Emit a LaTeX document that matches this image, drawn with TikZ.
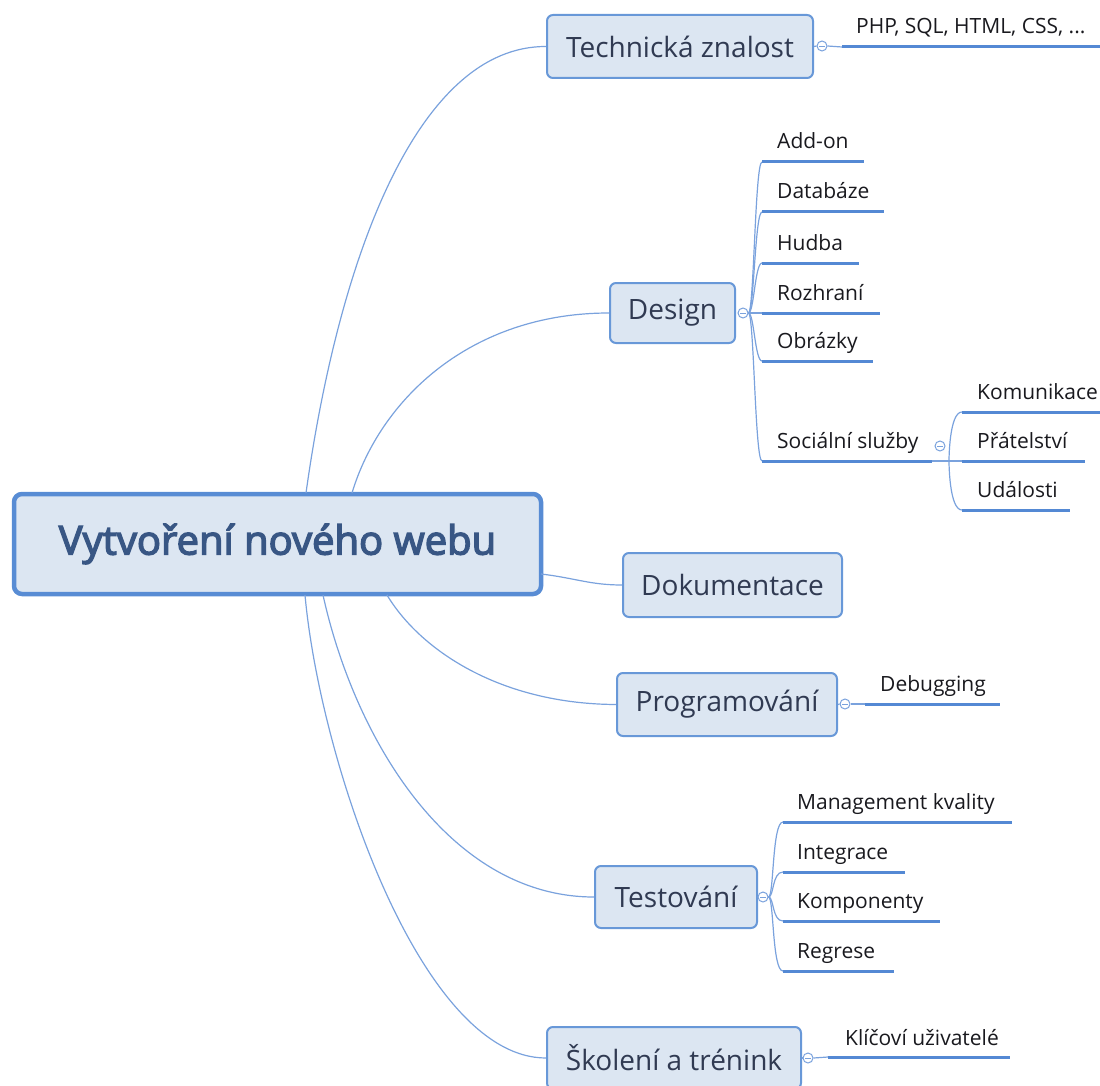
\documentclass[tikz,border=0pt]{standalone}
\usepackage{fontspec}
\setmainfont{Open Sans}
\newfontfamily\rootfont[FakeBold=3.5]{Open Sans}
\definecolor{boxfill}{RGB}{220,230,242}
\definecolor{boxline}{RGB}{104,152,216}
\definecolor{rootline}{RGB}{88,140,212}
\definecolor{connline}{RGB}{122,162,221}
\definecolor{uline}{RGB}{84,137,212}
\definecolor{maintext}{RGB}{48,58,82}
\definecolor{roottext}{RGB}{56,86,132}
\definecolor{leaftext}{RGB}{25,25,30}
\begin{document}
\begin{tikzpicture}[x=1pt,y=-1pt,
  rootbox/.style={draw=rootline,line width=4.5pt,fill=boxfill,rounded corners=8pt,
    minimum width=527,minimum height=100,inner sep=0pt,text=roottext,
    font=\rootfont\fontsize{40}{46}\selectfont},
  mainbox/.style={draw=boxline,line width=2pt,fill=boxfill,rounded corners=6pt,
    inner sep=0pt,text=maintext,font=\fontsize{28}{32}\selectfont},
  leaf/.style={inner sep=0pt,anchor=base west,text=leaftext,font=\fontsize{21}{25}\selectfont},
  conn/.style={draw=connline,line width=1.2pt},
  underline/.style={draw=uline,line width=3pt},
  collapse/.style={circle,draw=connline,line width=1pt,fill=white,minimum size=10pt,inner sep=0pt,
    path picture={\draw[connline,line width=0.9pt]
      ([xshift=-2.6pt]path picture bounding box.center) --
      ([xshift=2.6pt]path picture bounding box.center);}}
]
\useasboundingbox (0,0) rectangle (1100,1086);

% central topic
\node[rootbox] (root) at (277.5,544) {Vytvoření nového webu};

% main topics
\node[mainbox,minimum width=266,minimum height=63] (tech) at (680,46.5) {Technická znalost};
\node[mainbox,minimum width=125,minimum height=60] (design) at (672.5,313) {Design};
\node[mainbox,minimum width=219,minimum height=64] (doc) at (732.5,585) {Dokumentace};
\node[mainbox,minimum width=220,minimum height=63] (prog) at (727,704.5) {Programování};
\node[mainbox,minimum width=162,minimum height=62] (test) at (676,897) {Testování};
\node[mainbox,minimum width=254,minimum height=62] (skol) at (674,1058) {Školení a trénink};

% start points on the central topic
\coordinate (rTech) at (306,493);
\coordinate (rDesign) at (352,493);
\coordinate (rDoc) at (541,574);
\coordinate (rProg) at (387,595);
\coordinate (rTest) at (323,595);
\coordinate (rSkol) at (305,595);

% branches from the central topic
\draw[conn] (rTech) .. controls (340,250) and (420,46) .. (tech.west);
\draw[conn] (rDesign) .. controls (380,400) and (470,313) .. (design.west);
\draw[conn] (rDoc) .. controls (575,578) and (590,585) .. (doc.west);
\draw[conn] (rProg) .. controls (420,650) and (500,704) .. (prog.west);
\draw[conn] (rTest) .. controls (355,740) and (450,897) .. (test.west);
\draw[conn] (rSkol) .. controls (320,760) and (420,1058) .. (skol.west);

% collapse markers
\node[collapse] (cTech) at (822,46) {};
\node[collapse] (cDesign) at (743,313) {};
\node[collapse] (cSoc) at (940,446) {};
\node[collapse] (cProg) at (845,704) {};
\node[collapse] (cTest) at (763,897) {};
\node[collapse] (cSkol) at (808,1058) {};

\draw[conn] (tech.east) -- (cTech.west);
\draw[conn] (prog.east) -- (cProg.west);
\draw[conn] (skol.east) -- (cSkol.west);

% --- Technická znalost
\coordinate (uPhp) at (842,47);
\draw[conn] (cTech.east) -- (uPhp);
\draw[underline] (uPhp) -- ++(258,0);
\node[leaf] (php) at (856,34) {PHP, SQL, HTML, CSS, ...};

% --- Design
\foreach \nm/\yy/\len/\txt in {addon/162/102/Add-on, db/212/122/Databáze, hudba/263/97/Hudba,
    rozhr/313/118/Rozhraní, obr/361/111/Obrázky, soc/461/170/Sociální služby}{
  \coordinate (u\nm) at (762,\yy);
  \draw[conn] (cDesign.east) .. controls (754,313) and (755,\yy) .. (u\nm);
  \draw[underline] (u\nm) -- ++(\len,0);
  \node[leaf] (\nm) at (777,\yy-13) {\txt};
}
\coordinate (socEnd) at (932,461);
\coordinate (socFork) at (949,461);
\draw[conn] (socEnd) -- (962,461);

% --- Sociální služby
\foreach \nm/\yy/\len/\txt in {kom/412/138/Komunikace, prat/461/123/Přátelství, udal/510/108/Události}{
  \coordinate (u\nm) at (962,\yy);
  \draw[conn] (socFork) .. controls (949,461) and (949,\yy) .. (u\nm);
  \draw[underline] (u\nm) -- ++(\len,0);
  \node[leaf] (\nm) at (977,\yy-13) {\txt};
}

% --- Programování
\coordinate (uDebug) at (865,704);
\draw[conn] (cProg.east) -- (uDebug);
\draw[underline] (uDebug) -- ++(135,0);
\node[leaf] (debug) at (880,691) {Debugging};

% --- Testování
\foreach \nm/\yy/\len/\txt in {mgmt/822/229/Management kvality, integ/872/122/Integrace,
    komp/921/157/Komponenty, regr/971/111/Regrese}{
  \coordinate (u\nm) at (783,\yy);
  \draw[conn] (cTest.east) .. controls (774,897) and (772,\yy) .. (u\nm);
  \draw[underline] (u\nm) -- ++(\len,0);
  \node[leaf] (\nm) at (797,\yy-13) {\txt};
}

% --- Školení a trénink
\coordinate (uKey) at (828,1057);
\draw[conn] (cSkol.east) -- (uKey);
\draw[underline] (uKey) -- ++(182,0);
\node[leaf] (key) at (845,1045) {Klíčoví uživatelé};
\end{tikzpicture}
\end{document}
